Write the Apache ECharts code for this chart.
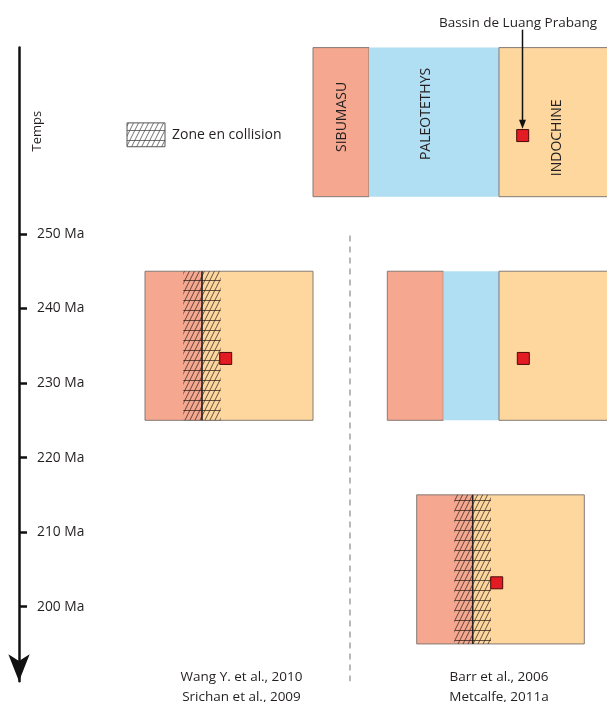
<!DOCTYPE html>
<html>
<head>
<meta charset="utf-8">
<script src="https://cdn.jsdelivr.net/npm/echarts@6/dist/echarts.min.js"></script>
<style>
html,body{margin:0;padding:0;background:#fff;}
#chart{width:607px;height:702px;}
</style>
</head>
<body>
<div id="chart"></div>
<script>
// ---------- data ----------
const tickValues = [200, 210, 220, 230, 240, 250];
const tickLabels = ['200 Ma', '210 Ma', '220 Ma', '230 Ma', '240 Ma', '250 Ma'];
const axisTitle = 'Temps';
const terranes = ['SIBUMASU', 'PALEOTETHYS', 'INDOCHINE'];
const panelStartMa = [275, 245, 245, 215];
const panelEndMa = [255, 225, 225, 195];
const basinMa = [263.2, 233.3, 233.3, 203.2];
const collision = [false, true, false, true];
const basinName = 'Bassin de Luang Prabang';
const legendLabel = 'Zone en collision';
const referencesLeft = ['Wang Y. et al., 2010', 'Srichan et al., 2009'];
const referencesRight = ['Barr et al., 2006', 'Metcalfe, 2011a'];
const axisMinMa = 190, axisMaxMa = 275;

// ---------- layout (diagram units: x in horizontal units, y in Ma) ----------
const layout = {
  panels: [
    { sib: [313, 369], paleo: [369, 499], indo: [499, 615] },
    { sib: [145, 202], indo: [202, 313], hatch: [183.3, 220.7], suture: 202 },
    { sib: [387.3, 443.3], paleo: [443.3, 499], indo: [499, 615] },
    { sib: [416.7, 472.7], indo: [472.7, 584.3], hatch: [454.3, 491], suture: 472.7 }
  ],
  basinX: [522.7, 225.7, 523.3, 496.7],
  terraneLabelPos: [[342, 265.7], [426, 266.1], [557, 262.9]],
  titlePos: [37, 263.8],
  basinLabelPos: [518, 278.3],
  basinArrow: [522.5, 277.4, 264.1],
  legendRect: [127, 165, 264.9, 261.7],
  legendTextPos: [172, 263.3],
  divider: [350, 249.8, 190],
  refLeftX: 241.5, refRightX: 499, refMa: [190.6, 187.9]
};
const colors = { sib: '#F5A78F', paleo: '#B0DEF2', indo: '#FDD79E', border: '#857a74', red: '#E31B23', ink: '#231f20' };
const FONT = '"Open Sans", "Noto Sans", sans-serif';

function makeHatch(lineColor, bg) {
  const c = document.createElement('canvas');
  c.width = 5; c.height = 10;
  const ctx = c.getContext('2d');
  if (bg) { ctx.fillStyle = bg; ctx.fillRect(0, 0, 5, 10); }
  ctx.strokeStyle = lineColor; ctx.lineWidth = 0.8;
  ctx.beginPath();
  for (let k = -1; k <= 1; k++) { ctx.moveTo(k * 5, 10); ctx.lineTo(k * 5 + 5, 0); }
  ctx.moveTo(0, 0.5); ctx.lineTo(5, 0.5);
  ctx.stroke();
  return c;
}
const hatchDark = makeHatch('rgba(45,30,25,0.9)', null);
const hatchLegend = makeHatch('rgba(70,70,70,0.95)', '#ffffff');

function renderPanel(params, api) {
  const i = api.value(0);
  const g = layout.panels[i];
  const yT = api.coord([0, panelStartMa[i]])[1];
  const yB = api.coord([0, panelEndMa[i]])[1];
  const X = v => api.coord([v, panelEndMa[i]])[0];
  const rect = (r, fill, stroke) => ({
    type: 'rect',
    shape: { x: X(r[0]), y: yT, width: X(r[1]) - X(r[0]), height: yB - yT },
    style: { fill: fill, stroke: stroke || null, lineWidth: 1 }
  });
  const ch = [];
  ch.push(rect(g.sib, colors.sib, colors.border));
  if (g.paleo) ch.push(rect(g.paleo, colors.paleo, null));
  ch.push(rect(g.indo, colors.indo, colors.border));
  if (collision[i]) {
    ch.push(rect(g.hatch, { image: hatchDark, repeat: 'repeat' }, null));
    ch.push({ type: 'line', shape: { x1: X(g.suture), y1: yT, x2: X(g.suture), y2: yB },
      style: { stroke: '#2b2020', lineWidth: 1.5 } });
  }
  const c = api.coord([layout.basinX[i], basinMa[i]]);
  ch.push({ type: 'rect', shape: { x: c[0] - 6, y: c[1] - 6, width: 12, height: 12 },
    style: { fill: colors.red, stroke: '#4a0a0a', lineWidth: 1 } });
  if (i === 0) {
    terranes.forEach((t, k) => {
      const p = api.coord(layout.terraneLabelPos[k]);
      ch.push({ type: 'text', x: p[0], y: p[1], rotation: Math.PI / 2,
        style: { text: t, fill: colors.ink, font: '14px ' + FONT, align: 'center', verticalAlign: 'middle',
          textAlign: 'center', textVerticalAlign: 'middle' } });
    });
  }
  return { type: 'group', children: ch };
}

function txt(p, text, size, align, rot) {
  return { type: 'text', x: p[0], y: p[1], rotation: rot || 0,
    style: { text: text, fill: colors.ink, font: size + 'px ' + FONT, align: align, verticalAlign: 'middle',
      textAlign: align, textVerticalAlign: 'middle' } };
}

function renderAnnotations(params, api) {
  const ch = [];
  ch.push(txt(api.coord(layout.titlePos), axisTitle, 13, 'center', Math.PI / 2));
  const lr = layout.legendRect;
  const a = api.coord([lr[0], lr[2]]), b = api.coord([lr[1], lr[3]]);
  ch.push({ type: 'rect', shape: { x: a[0], y: a[1], width: b[0] - a[0], height: b[1] - a[1] },
    style: { fill: { image: hatchLegend, repeat: 'repeat' }, stroke: '#555', lineWidth: 1 } });
  ch.push(txt(api.coord(layout.legendTextPos), legendLabel, 14, 'left'));
  ch.push(txt(api.coord(layout.basinLabelPos), basinName, 13.5, 'center'));
  const ba = layout.basinArrow;
  const p1 = api.coord([ba[0], ba[1]]), tip = api.coord([ba[0], ba[2]]);
  ch.push({ type: 'line', shape: { x1: p1[0], y1: p1[1], x2: tip[0], y2: tip[1] - 6 },
    style: { stroke: '#111', lineWidth: 1.5 } });
  ch.push({ type: 'polygon', shape: { points: [[tip[0] - 3.5, tip[1] - 9], [tip[0] + 3.5, tip[1] - 9], [tip[0], tip[1]]] },
    style: { fill: '#111' } });
  const d = layout.divider;
  const d1 = api.coord([d[0], d[1]]), d2 = api.coord([d[0], d[2]]);
  ch.push({ type: 'line', shape: { x1: d1[0], y1: d1[1], x2: d2[0], y2: d2[1] },
    style: { stroke: '#8a8a8a', lineWidth: 1.2, lineDash: [6, 5] } });
  referencesLeft.forEach((r, k) => ch.push(txt(api.coord([layout.refLeftX, layout.refMa[k]]), r, 13.5, 'center')));
  referencesRight.forEach((r, k) => ch.push(txt(api.coord([layout.refRightX, layout.refMa[k]]), r, 13.5, 'center')));
  return { type: 'group', children: ch };
}

const chart = echarts.init(document.getElementById('chart'), null, { renderer: 'canvas' });
chart.setOption({
  animation: false,
  backgroundColor: '#ffffff',
  grid: { left: 19, right: 0, top: 47.6, bottom: 20.8, outerBoundsMode: 'none' },
  xAxis: { type: 'value', min: 19, max: 607, show: false },
  yAxis: {
    type: 'value', min: axisMinMa, max: axisMaxMa,
    splitLine: { show: false },
    axisLine: { show: true, onZero: false, symbol: ['arrow', 'none'], symbolSize: [16, 27], symbolOffset: [0, 0],
      lineStyle: { color: '#111', width: 2.5 } },
    axisTick: { show: true, inside: true, length: 8, customValues: tickValues, lineStyle: { color: '#111', width: 2.5 } },
    axisLabel: { show: true, inside: true, margin: 18, customValues: tickValues,
      formatter: v => tickLabels[tickValues.indexOf(v)] || '',
      fontSize: 13.8, color: colors.ink, fontFamily: FONT }
  },
  series: [
    { type: 'custom', coordinateSystem: 'cartesian2d', renderItem: renderPanel, clip: false,
      data: panelStartMa.map((s, i) => [i]), encode: { x: 0 }, silent: true },
    { type: 'custom', coordinateSystem: 'cartesian2d', renderItem: renderAnnotations, clip: false,
      data: [[0]], encode: { x: 0 }, silent: true }
  ]
});
</script>
</body>
</html>
